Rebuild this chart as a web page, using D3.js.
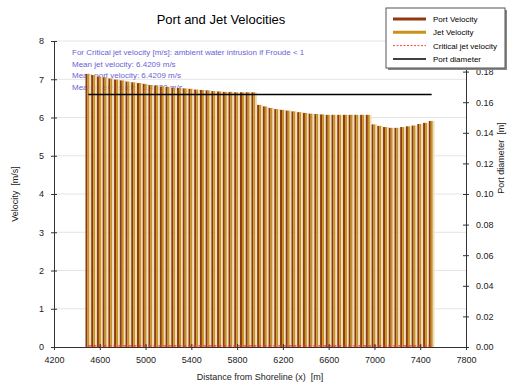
<!DOCTYPE html>
<html>
<head>
<meta charset="utf-8">
<script src="https://cdn.jsdelivr.net/npm/d3@7"></script>
<style>
  body { margin: 0; background: #fff; }
  svg { font-family: "Liberation Sans", Arial, sans-serif; }
  text { white-space: pre; }
</style>
</head>
<body>
<svg id="chart" width="518" height="388"></svg>
<script>
// Port positions along the diffuser [m]
const distances = d3.range(4500, 7501, 50);

// Velocities [m/s]
const portVelocity = [
  7.14, 7.11, 7.07, 7.05, 7.02, 6.99, 6.97, 6.94, 6.92, 6.90,
  6.88, 6.85, 6.83, 6.81, 6.80, 6.78, 6.77, 6.76, 6.75, 6.73,
  6.72, 6.71, 6.69, 6.68, 6.67, 6.67, 6.66, 6.66, 6.66, 6.66,
  6.33, 6.29, 6.25, 6.22, 6.20, 6.18, 6.16, 6.14, 6.12, 6.10,
  6.09, 6.08, 6.07, 6.07, 6.07, 6.07, 6.07, 6.07, 6.07, 6.07,
  5.82, 5.78, 5.75, 5.73, 5.73, 5.75, 5.77, 5.79, 5.83, 5.86, 5.91
];
const jetVelocity = [
  7.14, 7.11, 7.07, 7.05, 7.02, 6.99, 6.97, 6.94, 6.92, 6.90,
  6.88, 6.85, 6.83, 6.81, 6.80, 6.78, 6.77, 6.76, 6.75, 6.73,
  6.72, 6.71, 6.69, 6.68, 6.67, 6.67, 6.66, 6.66, 6.66, 6.66,
  6.33, 6.29, 6.25, 6.22, 6.20, 6.18, 6.16, 6.14, 6.12, 6.10,
  6.09, 6.08, 6.07, 6.07, 6.07, 6.07, 6.07, 6.07, 6.07, 6.07,
  5.82, 5.78, 5.75, 5.73, 5.73, 5.75, 5.77, 5.79, 5.83, 5.86, 5.91
];
const criticalJetVelocity = [0.03, 0.03];
const criticalExtent = [4500, 7500];
const portDiameter = [0.165, 0.165];
const diameterExtent = [4500, 7500];

const xTicks = d3.range(4200, 7801, 400);
const yTicks = d3.range(0, 9, 1);
const y2Ticks = [0, 0.02, 0.04, 0.06, 0.08, 0.10, 0.12, 0.14, 0.16, 0.18];

const notes = [
  "For Critical jet velocity [m/s]: ambient water intrusion if Froude < 1",
  "Mean jet velocity: 6.4209 m/s",
  "Mean port velocity: 6.4209 m/s",
  "Mean riser velocity: 3.4530 m/s"
];
const legendItems = [
  { name: "Port Velocity", color: "#8e3b12", width: 3, dash: null },
  { name: "Jet Velocity", color: "#c8921c", width: 3, dash: null },
  { name: "Critical jet velocity", color: "#ff4040", width: 1, dash: "2,1.5" },
  { name: "Port diameter", color: "#000", width: 1.5, dash: null }
];

const svg = d3.select("#chart");
const margin = { top: 41, right: 52, bottom: 41, left: 54 };
const width = 518 - margin.left - margin.right;
const height = 388 - margin.top - margin.bottom;

const x = d3.scaleLinear().domain([4200, 7800]).range([0, width]);
const y = d3.scaleLinear().domain([0, 8]).range([height, 0]);
const y2 = d3.scaleLinear().domain([0, 0.2]).range([height, 0]);

const g = svg.append("g").attr("transform", `translate(${margin.left},${margin.top})`);

// Gridlines
g.selectAll(".grid")
  .data(yTicks.filter(d => d > 0))
  .enter().append("line")
  .attr("x1", 0).attr("x2", width)
  .attr("y1", d => y(d)).attr("y2", d => y(d))
  .attr("stroke", "#e4e4e4");

// Notes (behind the bars)
g.selectAll(".note")
  .data(notes)
  .enter().append("text")
  .attr("x", 18)
  .attr("y", (d, i) => 14 + i * 11.5)
  .attr("font-size", 8)
  .attr("fill", "#6a5fd6")
  .text(d => d);

// Bars
const step = x(4550) - x(4500);
const bw = step * 0.35;
const groups = g.selectAll(".port")
  .data(distances)
  .enter().append("g");

groups.append("rect")
  .attr("x", d => x(d) - step / 2)
  .attr("y", (d, i) => y(portVelocity[i]))
  .attr("width", bw)
  .attr("height", (d, i) => height - y(portVelocity[i]))
  .attr("fill", "#8e3b12");

groups.append("rect")
  .attr("x", d => x(d) - step / 2 + bw)
  .attr("y", (d, i) => y(jetVelocity[i]))
  .attr("width", bw)
  .attr("height", (d, i) => height - y(jetVelocity[i]))
  .attr("fill", "#c8921c");

groups.append("rect")
  .attr("x", d => x(d) - step / 2 + 2 * bw)
  .attr("y", (d, i) => y(jetVelocity[i]))
  .attr("width", step - 2 * bw)
  .attr("height", (d, i) => height - y(jetVelocity[i]))
  .attr("fill", "#efdfbf");

// Critical jet velocity
g.append("line")
  .attr("x1", x(criticalExtent[0])).attr("x2", x(criticalExtent[1]))
  .attr("y1", y(criticalJetVelocity[0])).attr("y2", y(criticalJetVelocity[1]))
  .attr("stroke", "#ff3030").attr("stroke-width", 1.2).attr("stroke-dasharray", "3,2");

// Port diameter
g.append("line")
  .attr("x1", x(diameterExtent[0])).attr("x2", x(diameterExtent[1]))
  .attr("y1", y2(portDiameter[0])).attr("y2", y2(portDiameter[1]))
  .attr("stroke", "#000").attr("stroke-width", 1.5);

// Axes
function crossTicks(sel, vertical) {
  sel.select(".domain").attr("stroke", "#333");
  sel.selectAll(".tick line").attr("stroke", "#333");
  if (vertical) sel.selectAll(".tick line").attr("x1", -3).attr("x2", 3);
  else sel.selectAll(".tick line").attr("y1", -3).attr("y2", 3);
  sel.selectAll("text").attr("font-size", 9).attr("fill", "#222")
    .attr("font-family", "Liberation Sans, Arial, sans-serif");
}

g.append("g")
  .call(d3.axisLeft(y).tickValues(yTicks).tickSizeOuter(0).tickPadding(4))
  .call(s => crossTicks(s, true));

g.append("g")
  .attr("transform", `translate(${width},0)`)
  .call(d3.axisRight(y2).tickValues(y2Ticks).tickFormat(d3.format(".2f")).tickSizeOuter(0).tickPadding(4))
  .call(s => crossTicks(s, true));

g.append("g")
  .attr("transform", `translate(0,${height})`)
  .call(d3.axisBottom(x).tickValues(xTicks).tickFormat(d3.format("d")).tickSizeOuter(0).tickPadding(4))
  .call(s => crossTicks(s, false));

// Titles
svg.append("text")
  .attr("x", 221).attr("y", 24)
  .attr("text-anchor", "middle")
  .attr("font-size", 13)
  .text("Port and Jet Velocities");

svg.append("text")
  .attr("x", margin.left + width / 2).attr("y", 380)
  .attr("text-anchor", "middle")
  .attr("font-size", 9)
  .attr("fill", "#222")
  .text("Distance from Shoreline (x)  [m]");

svg.append("text")
  .attr("transform", "translate(18,194) rotate(-90)")
  .attr("text-anchor", "middle")
  .attr("font-size", 9)
  .attr("fill", "#222")
  .text("Velocity  [m/s]");

svg.append("text")
  .attr("transform", "translate(504,158) rotate(-90)")
  .attr("text-anchor", "middle")
  .attr("font-size", 9)
  .attr("fill", "#222")
  .text("Port diameter  [m]");

// Legend
const lg = svg.append("g").attr("transform", "translate(386,8)");
lg.append("rect")
  .attr("x", 2).attr("y", 2).attr("width", 119).attr("height", 60)
  .attr("fill", "#888");
lg.append("rect")
  .attr("width", 119).attr("height", 60)
  .attr("fill", "#fff").attr("stroke", "#555");
const li = lg.selectAll(".item")
  .data(legendItems)
  .enter().append("g")
  .attr("transform", (d, i) => `translate(0,${11 + i * 13.3})`);
li.append("line")
  .attr("x1", 7).attr("x2", 40)
  .attr("stroke", d => d.color)
  .attr("stroke-width", d => d.width)
  .attr("stroke-dasharray", d => d.dash);
li.append("text")
  .attr("x", 47).attr("y", 3)
  .attr("font-size", 8)
  .text(d => d.name);
</script>
</body>
</html>
